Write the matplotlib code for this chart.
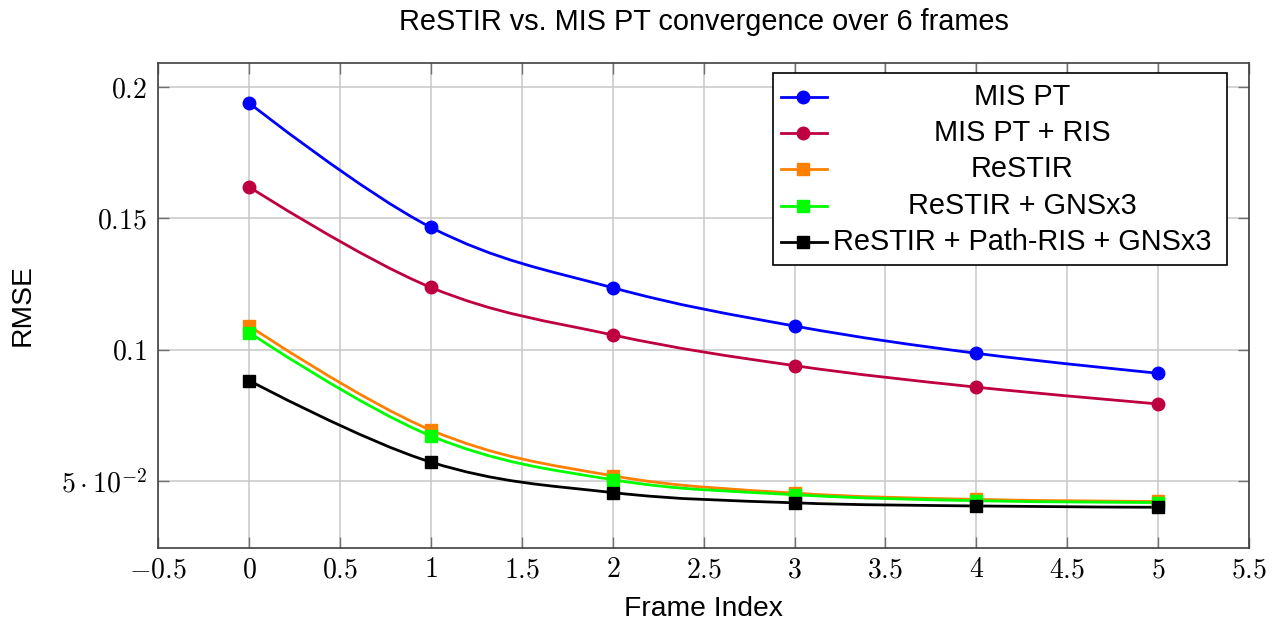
import matplotlib
matplotlib.use("Agg")
import matplotlib.pyplot as plt
import numpy as np
from matplotlib.path import Path
from matplotlib.patches import PathPatch, Rectangle
from matplotlib.lines import Line2D
from matplotlib.ticker import FixedLocator, FuncFormatter

plt.rcParams['font.family'] = ['Liberation Sans', 'DejaVu Sans']
plt.rcParams['mathtext.fontset'] = 'cm'

frames = [0, 1, 2, 3, 4, 5]
mis_pt = [0.1940, 0.1466, 0.1236, 0.1090, 0.0986, 0.0910]
mis_pt_ris = [0.1620, 0.1237, 0.1056, 0.0939, 0.0857, 0.0793]
restir = [0.1090, 0.0693, 0.0519, 0.0453, 0.0429, 0.0421]
restir_gns = [0.1065, 0.0671, 0.0504, 0.0447, 0.0424, 0.0417]
restir_path = [0.0882, 0.0571, 0.0455, 0.0416, 0.0404, 0.0399]

labels = ["MIS PT", "MIS PT + RIS", "ReSTIR", "ReSTIR + GNSx3", "ReSTIR + Path-RIS + GNSx3"]
colors = ["#0000ff", "#bf0040", "#ff8000", "#00ff00", "#000000"]
markers = ["o", "o", "s", "s", "s"]
series = [mis_pt, mis_pt_ris, restir, restir_gns, restir_path]

yticks = [0.05, 0.1, 0.15, 0.2]
ytick_labels = [r"$5\cdot10^{-2}$", r"$0.1$", r"$0.15$", r"$0.2$"]
xticks = [-0.5, 0, 0.5, 1, 1.5, 2, 2.5, 3, 3.5, 4, 4.5, 5, 5.5]

FS_TICK = 20
FS_LABEL = 20.3
FS_TITLE = 20.8
FS_LEG = 20.8

fig = plt.figure(figsize=(12.85, 6.26), dpi=100)
ax = fig.add_axes([0.1232, 0.1251, 0.8488, 0.7748])


def smooth_path(xs, ys, tension=0.55 / 3.0):
    pts = np.column_stack([xs, ys]).astype(float)
    n = len(pts)
    verts = [pts[0]]
    codes = [Path.MOVETO]
    for i in range(n - 1):
        p0 = pts[i]
        p1 = pts[i + 1]
        if i == 0:
            c1 = p0
        else:
            c1 = p0 + tension * (pts[i + 1] - pts[i - 1])
        if i + 1 == n - 1:
            c2 = p1
        else:
            c2 = p1 - tension * (pts[i + 2] - pts[i])
        verts += [c1, c2, p1]
        codes += [Path.CURVE4] * 3
    return Path(verts, codes)


for vals, c, m in zip(series, colors, markers):
    patch = PathPatch(smooth_path(frames, vals), facecolor="none", edgecolor=c,
                      lw=2.0, zorder=3)
    ax.add_patch(patch)
    ax.plot(frames, vals, linestyle="none", marker=m, color=c, ms=9 if m == "o" else 8.5,
            mec=c, zorder=4)

allv = np.concatenate(series)
rng = allv.max() - allv.min()
ax.set_xlim(-0.5, 5.5)
ax.set_ylim(allv.min() - 0.1 * rng, allv.max() + 0.1 * rng)

ax.xaxis.set_major_locator(FixedLocator(xticks))
ax.xaxis.set_major_formatter(FuncFormatter(lambda v, p: r"$%g$" % v))
ax.set_yticks(yticks)
ax.set_yticklabels(ytick_labels)

ax.grid(True, color="#c8c8c8", lw=1.1)
ax.set_axisbelow(True)
for s in ax.spines.values():
    s.set_color("#404040")
    s.set_linewidth(1.2)
ax.tick_params(axis="both", which="major", direction="in", length=8, width=1.0,
               color="#707070", top=True, right=True, labelsize=FS_TICK)
ax.tick_params(axis="x", pad=7)
ax.tick_params(axis="y", pad=8)

ax.set_title("ReSTIR vs. MIS PT convergence over 6 frames", fontsize=FS_TITLE, pad=23.5)
ax.set_xlabel("Frame Index", fontsize=FS_LABEL, labelpad=9)
ax.set_ylabel("RMSE", fontsize=FS_LABEL, labelpad=18)

# legend (manual, centered text)
lx0, lx1, ly0, ly1 = 0.5633, 0.9796, 0.5829, 0.9781
ax.add_patch(Rectangle((lx0, ly0), lx1 - lx0, ly1 - ly0, transform=ax.transAxes,
                       facecolor="white", edgecolor="black", lw=1.2, zorder=10))
rows = [0.9298, 0.8555, 0.7807, 0.7050, 0.6297]
for yy, lab, c, m in zip(rows, labels, colors, markers):
    ax.add_line(Line2D([0.5708, 0.6130], [yy, yy], transform=ax.transAxes, color=c,
                       lw=2.0, zorder=11))
    ax.add_line(Line2D([0.5910], [yy], transform=ax.transAxes, color=c, marker=m,
                       ms=9 if m == "o" else 8.5, mec=c, linestyle="none", zorder=12))
    ax.text(0.7918, yy, lab, transform=ax.transAxes, ha="center", va="center",
            fontsize=FS_LEG, zorder=12)

fig.savefig("out.png", dpi=100)
